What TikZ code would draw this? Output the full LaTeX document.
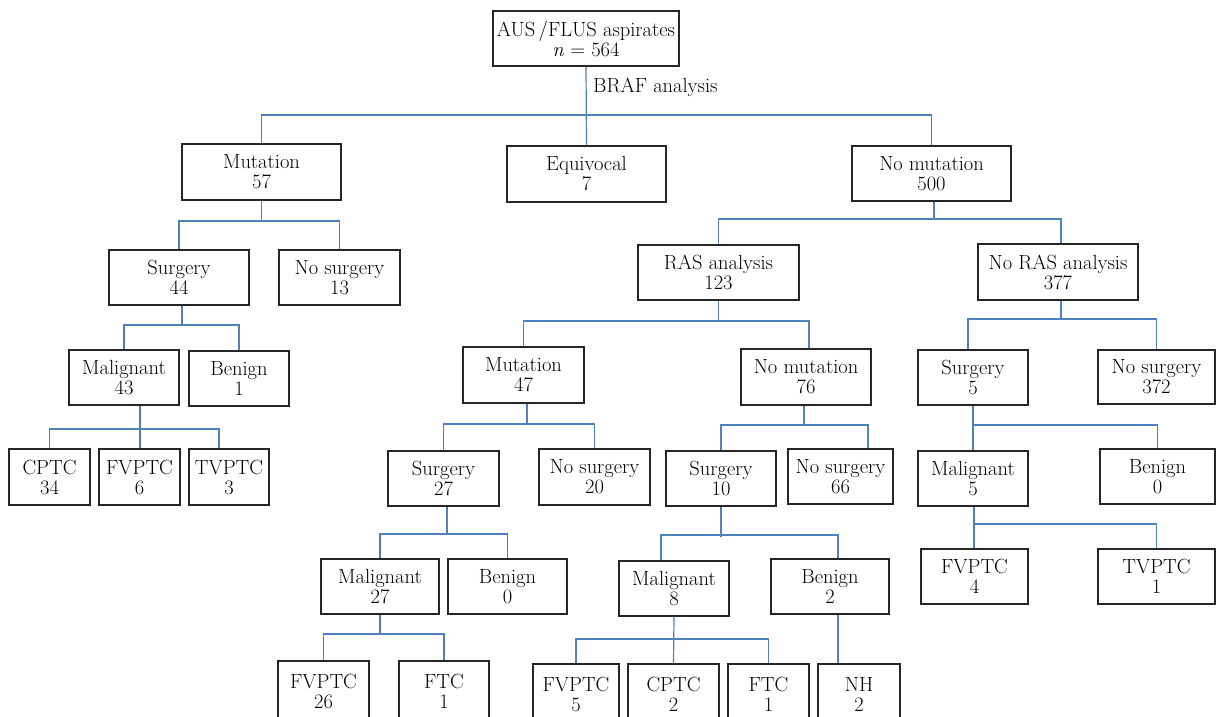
\documentclass[tikz,border=0pt]{standalone}
\usepackage{fontspec}
\setmainfont{Latin Modern Roman}
\definecolor{connblue}{RGB}{79,129,189}
\tikzset{
  box/.style={draw=black!85, line width=1.2pt, align=center, inner sep=0pt,
    font=\fontsize{20.5}{20}\selectfont, minimum height=55pt},
  conn/.style={draw=connblue, line width=1.2pt}
}
\begin{document}
\begin{tikzpicture}[x=1pt,y=-1pt]
\clip (0,0) rectangle (1216,717);
\fill[white] (0,0) rectangle (1216,717);
% level 0
\node[box, minimum width=186] (top) at (586,38.5) {AUS\,/FLUS aspirates\\\textit{n} = 564};
% level 1
\node[box, minimum width=159, minimum height=56] (mut57) at (261.5,172) {Mutation\\57};
\node[box, minimum width=159, minimum height=56] (equiv) at (586.5,174) {Equivocal\\7};
\node[box, minimum width=159] (nomut500) at (931.5,173.5) {No mutation\\500};
% level 2
\node[box, minimum width=140] (surg44) at (179,277.5) {Surgery\\44};
\node[box, minimum width=121] (nosurg13) at (339.5,277.5) {No surgery\\13};
\node[box, minimum width=161] (ras123) at (718.5,272.5) {RAS analysis\\123};
\node[box, minimum width=160, minimum height=56] (noras377) at (1058,272) {No RAS analysis\\377};
% level 3
\node[box, minimum width=110] (mal43) at (124,377.5) {Malignant\\43};
\node[box, minimum width=100] (ben1) at (239,378.5) {Benign\\1};
\node[box, minimum width=121, minimum height=56] (mut47) at (523.5,375) {Mutation\\47};
\node[box, minimum width=130, minimum height=56] (nomut76) at (806,377) {No mutation\\76};
\node[box, minimum width=110] (surg5) at (973,377.5) {Surgery\\5};
\node[box, minimum width=117, minimum height=54] (nosurg372) at (1156.5,377) {No surgery\\372};
% level 4
\node[box, minimum width=81, minimum height=56] (cptc34) at (49.5,477) {CPTC\\34};
\node[box, minimum width=81, minimum height=56] (fvptc6) at (139.5,477) {FVPTC\\6};
\node[box, minimum width=80, minimum height=56] (tvptc3) at (229,477) {TVPTC\\3};
\node[box, minimum width=111] (surg27) at (443.5,478.5) {Surgery\\27};
\node[box, minimum width=111, minimum height=56] (nosurg20) at (594.5,477) {No surgery\\20};
\node[box, minimum width=110] (surg10) at (721,478.5) {Surgery\\10};
\node[box, minimum width=105] (nosurg66) at (840.5,476.5) {No surgery\\66};
\node[box, minimum width=110] (mal5) at (973,478.5) {Malignant\\5};
\node[box, minimum width=115] (ben0r) at (1157.5,476.5) {Benign\\0};
% level 5
\node[box, minimum width=107] (fvptc4) at (974.5,576.5) {FVPTC\\4};
\node[box, minimum width=117] (tvptc1) at (1156.5,576.5) {TVPTC\\1};
\node[box, minimum width=118] (mal27) at (380,586.5) {Malignant\\27};
\node[box, minimum width=119] (ben0) at (507.5,586.5) {Benign\\0};
\node[box, minimum width=110] (mal8) at (674,588.5) {Malignant\\8};
\node[box, minimum width=118] (ben2) at (830,586.5) {Benign\\2};
% level 6 (cut at bottom)
\node[box, minimum width=91, minimum height=60] (fvptc26) at (323.5,691) {FVPTC\\26};
\node[box, minimum width=90, minimum height=60] (ftc1a) at (444,691) {FTC\\1};
\node[box, minimum width=86, minimum height=60] (fvptc5) at (576,694) {FVPTC\\5};
\node[box, minimum width=91, minimum height=60] (cptc2) at (673.5,694) {CPTC\\2};
\node[box, minimum width=81, minimum height=60] (ftc1b) at (768.5,694) {FTC\\1};
\node[box, minimum width=82, minimum height=60] (nh2) at (859,694) {NH\\2};

% bus levels
\coordinate (b1) at (0,115);
\coordinate (b2) at (0,221);
\coordinate (b3) at (0,325);
\coordinate (b4) at (0,429);
\coordinate (b5) at (0,219);
\coordinate (b6) at (0,321);
\coordinate (b7) at (0,319);
\coordinate (b8) at (0,424);
\coordinate (b9) at (0,425);
\coordinate (b10) at (0,425);
\coordinate (b11) at (0,534);
\coordinate (b12) at (0,535);
\coordinate (b13) at (0,524);
\coordinate (b14) at (0,634);
\coordinate (b15) at (0,639);

% 1: top
\draw[conn] (top.south) -- (equiv.north);
\draw[conn] (mut57.north) |- (b1 -| nomut500.north) -- (nomut500.north);
\node[anchor=west, inner sep=0pt, font=\fontsize{20.5}{20}\selectfont] (braf) at (593,87) {BRAF analysis};
% 2: mut57
\draw[conn] (mut57.south) -- (mut57.south |- b2);
\draw[conn] (surg44.north) |- (b2 -| nosurg13.north) -- (nosurg13.north);
% 3: surg44
\coordinate (s3) at ([xshift=3]surg44.south);
\draw[conn] (s3) -- (s3 |- b3);
\draw[conn] (mal43.north) |- (b3 -| ben1.north) -- (ben1.north);
% 4: mal43
\coordinate (s4) at ([xshift=16]mal43.south);
\coordinate (d4) at ([xshift=-10]tvptc3.north);
\draw[conn] (s4) -- (s4 |- fvptc6.north);
\draw[conn] (cptc34.north) |- (b4 -| d4) -- (d4);
% 5: nomut500
\coordinate (s5) at ([xshift=2.5]nomut500.south);
\coordinate (d5) at ([xshift=3]noras377.north);
\draw[conn] (s5) -- (s5 |- b5);
\draw[conn] (ras123.north) |- (b5 -| d5) -- (d5);
% 6: ras123
\coordinate (d6) at ([xshift=3]nomut76.north);
\draw[conn] (ras123.south) -- (ras123.south |- b6);
\draw[conn] (mut47.north) |- (b6 -| d6) -- (d6);
% 7: noras377
\coordinate (s7) at ([xshift=3]noras377.south);
\coordinate (d7) at ([xshift=-5]surg5.north);
\draw[conn] (s7) -- (s7 |- b7);
\draw[conn] (d7) |- (b7 -| nosurg372.north) -- (nosurg372.north);
% 8: mut47
\coordinate (s8) at ([xshift=3.5]mut47.south);
\draw[conn] (s8) -- (s8 |- b8);
\draw[conn] (surg27.north) |- (b8 -| nosurg20.north) -- (nosurg20.north);
% 9: nomut76
\coordinate (s9) at ([xshift=-2]nomut76.south);
\coordinate (d9) at ([xshift=27.5]nosurg66.north);
\draw[conn] (s9) -- (s9 |- b9);
\draw[conn] (surg10.north) |- (b9 -| d9) -- (d9);
% 10: surg5
\draw[conn] (surg5.south) -- (mal5.north);
\draw[conn] (surg5.south |- b10) -- (b10 -| ben0r.north) -- (ben0r.north);
% 11: surg27
\coordinate (s11) at ([xshift=3.5]surg27.south);
\draw[conn] (s11) -- (s11 |- b11);
\draw[conn] (mal27.north) |- (b11 -| ben0.north) -- (ben0.north);
% 12: surg10
\coordinate (d12a) at ([xshift=-13]mal8.north);
\coordinate (d12b) at ([xshift=8]ben2.north);
\draw[conn] (surg10.south) -- ([yshift=-2]surg10.south |- b12);
\draw[conn] (d12a) |- (b12 -| d12b) -- (d12b);
% 13: mal5
\coordinate (s13) at ([xshift=1]mal5.south);
\draw[conn] (s13) -- (s13 |- fvptc4.north);
\draw[conn] (s13 |- b13) -- (b13 -| tvptc1.north) -- (tvptc1.north);
% 14: mal27
\draw[conn] (mal27.south) -- (mal27.south |- b14);
\draw[conn] (fvptc26.north) |- (b14 -| ftc1a.north) -- (ftc1a.north);
% 15: mal8
\draw[conn] (mal8.south) -- (cptc2.north);
\draw[conn] (fvptc5.north) |- (b15 -| ftc1b.north) -- (ftc1b.north);
% 16: ben2
\coordinate (s16) at ([xshift=8]ben2.south);
\draw[conn] (s16) -- (s16 |- nh2.north);
\end{tikzpicture}
\end{document}
